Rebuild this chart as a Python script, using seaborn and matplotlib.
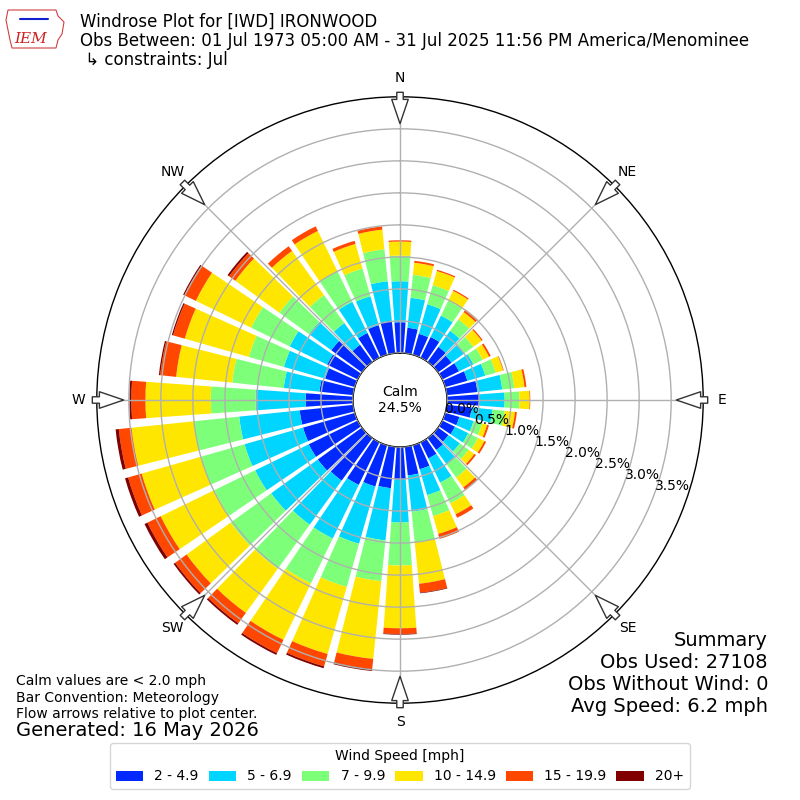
import numpy as np
import pandas as pd
import seaborn as sns
import matplotlib
matplotlib.use('Agg')
import matplotlib.pyplot as plt
from matplotlib.patches import Polygon

# Directions (deg, meteorological) and speed bins
directions = list(range(0, 360, 10))
speed_labels = ['2 - 4.9', '5 - 6.9', '7 - 9.9', '10 - 14.9', '15 - 19.9', '20+']
card_angles = [0, 45, 90, 135, 180, 225, 270, 315]
card_labels = ['N', 'NE', 'E', 'SE', 'S', 'SW', 'W', 'NW']
ring_values = [0.0, 0.5, 1.0, 1.5, 2.0, 2.5, 3.0, 3.5]
calm_pct = 24.5
summary_lines = ['Summary', 'Obs Used: 27108', 'Obs Without Wind: 0', 'Avg Speed: 6.2 mph']

# percent of observations in each direction, one list per speed bin
spd_2_5 = [0.48, 0.40, 0.34, 0.36, 0.29, 0.26, 0.29, 0.36, 0.48, 0.51, 0.39, 0.23,
           0.22, 0.20, 0.23, 0.28, 0.39, 0.45, 0.51, 0.65, 0.67, 0.74, 0.82, 0.85,
           0.85, 0.84, 0.84, 0.74, 0.53, 0.48, 0.53, 0.59, 0.33, 0.43, 0.48, 0.51]
spd_5_7 = [0.64, 0.47, 0.48, 0.37, 0.31, 0.25, 0.25, 0.29, 0.39, 0.39, 0.33, 0.23,
           0.23, 0.22, 0.28, 0.42, 0.42, 0.57, 0.67, 0.82, 0.93, 0.93, 0.85, 0.90,
           0.93, 0.95, 0.95, 0.78, 0.56, 0.67, 0.65, 0.43, 0.42, 0.54, 0.47, 0.62]
spd_7_10 = [0.40, 0.36, 0.31, 0.26, 0.22, 0.17, 0.16, 0.17, 0.19, 0.23, 0.19, 0.14,
            0.17, 0.17, 0.25, 0.36, 0.34, 0.48, 0.67, 0.64, 0.70, 0.78, 0.85, 0.78,
            0.71, 0.71, 0.71, 0.70, 0.81, 0.57, 0.67, 0.57, 0.54, 0.53, 0.45, 0.50]
spd_10_15 = [0.22, 0.19, 0.23, 0.17, 0.14, 0.16, 0.11, 0.12, 0.16, 0.16, 0.16, 0.08,
             0.11, 0.11, 0.19, 0.19, 0.29, 0.65, 0.98, 1.22, 1.09, 0.98, 0.85, 0.85,
             0.93, 0.96, 0.98, 1.02, 0.88, 1.04, 0.96, 0.85, 0.85, 0.70, 0.40, 0.31]
spd_15_20 = [0.02, 0.03, 0.02, 0.02, 0.05, 0.02, 0.03, 0.01, 0.03, 0.01, 0.03, 0.03,
             0.03, 0.03, 0.05, 0.06, 0.08, 0.14, 0.09, 0.16, 0.20, 0.23, 0.20, 0.22,
             0.23, 0.22, 0.20, 0.22, 0.25, 0.19, 0.20, 0.12, 0.09, 0.08, 0.05, 0.05]
spd_20p = [0.0, 0.0, 0.0, 0.0, 0.0, 0.0, 0.0, 0.0, 0.0, 0.0, 0.0, 0.0,
           0.0, 0.0, 0.0, 0.0, 0.0, 0.01, 0.01, 0.03, 0.03, 0.03, 0.03, 0.03,
           0.05, 0.05, 0.05, 0.03, 0.02, 0.02, 0.02, 0.03, 0.0, 0.0, 0.0, 0.0]

df = pd.DataFrame({'dir': directions, speed_labels[0]: spd_2_5, speed_labels[1]: spd_5_7,
                   speed_labels[2]: spd_7_10, speed_labels[3]: spd_10_15,
                   speed_labels[4]: spd_15_20, speed_labels[5]: spd_20p})

sns.set_style('white')
plt.rcParams['font.family'] = ['DejaVu Sans']
plt.rcParams['text.color'] = 'black'
plt.rcParams['xtick.color'] = 'black'
plt.rcParams['ytick.color'] = 'black'

colors = plt.cm.jet(np.linspace(0, 1, 7))[1:]

fig = plt.figure(figsize=(8, 8), dpi=100)
ax = fig.add_axes([0.121, 0.121, 0.758, 0.758], projection='polar')
ax.set_theta_zero_location('N')
ax.set_theta_direction(-1)

theta = np.deg2rad(df['dir'].values)
width = np.deg2rad(10) * 0.82
bottom = np.zeros(len(df))
for i, lab in enumerate(speed_labels):
    ax.bar(theta, df[lab].values, width=width, bottom=bottom, color=colors[i],
           label=lab, linewidth=0, align='center')
    bottom += df[lab].values

ax.set_rorigin(-0.734)
ax.set_ylim(0, 4.0)
ax.set_axisbelow(False)
ax.grid(True, color='#b0b0b0', linewidth=1.0)
ax.set_thetagrids(card_angles, labels=card_labels, fontsize=10)
ax.tick_params(axis='x', pad=3)
ax.set_rgrids(ring_values, labels=['%.1f%%' % v for v in ring_values], angle=110, fontsize=10)
for sp in ax.spines.values():
    sp.set_color('black')
    sp.set_linewidth(1.0)

# calm in the middle
ax.text(0, -0.734, 'Calm\n%.1f%%' % calm_pct, ha='center', va='center', fontsize=10)

# flow arrows at the cardinal points
for ang in card_angles:
    ax.annotate('', xy=(np.deg2rad(ang), 3.58), xytext=(np.deg2rad(ang), 4.07),
                xycoords='data', textcoords='data', annotation_clip=False,
                arrowprops=dict(arrowstyle='simple,head_length=1.25,head_width=0.85,tail_width=0.33',
                                mutation_scale=14, fc='white', ec='#333333', lw=1.0,
                                shrinkA=0, shrinkB=0))

# header
fig.text(0.1, 0.984, 'Windrose Plot for [IWD] IRONWOOD\n'
         'Obs Between: 01 Jul 1973 05:00 AM - 31 Jul 2025 11:56 PM America/Menominee\n'
         ' \u21b3 constraints: Jul', ha='left', va='top', fontsize=12, linespacing=1.08)

# rough IEM logo
iowa = np.array([[8, 10], [56, 10], [58, 16], [64, 22], [62, 34], [58, 40], [56, 48],
                 [12, 48], [10, 40], [8, 30], [6, 20]], dtype=float)
iowa[:, 0] /= 800.0
iowa[:, 1] = 1 - iowa[:, 1] / 800.0
fig.patches.append(Polygon(iowa, closed=True, fill=False, ec='#d04040', lw=0.8,
                           transform=fig.transFigure, figure=fig))
fig.text(0.038, 0.951, 'IEM', color='#cc2222', fontsize=11, family='DejaVu Serif',
         style='italic', ha='center', va='center')
fig.lines.append(plt.Line2D([0.025, 0.06], [0.976, 0.976], color='#1020cc', lw=1.5,
                            transform=fig.transFigure, figure=fig))

# summary, one text per line so the block stays clear of the SE label
for k, line in enumerate(summary_lines):
    fig.text(0.96, 0.2 - k * 0.0275, line, ha='right', va='center', fontsize=14)
fig.text(0.02, 0.157, 'Calm values are < 2.0 mph\nBar Convention: Meteorology\n'
         'Flow arrows relative to plot center.', ha='left', va='top', fontsize=10,
         linespacing=1.22)
fig.text(0.02, 0.0875, 'Generated: 16 May 2026', ha='left', va='center', fontsize=14)

handles, labels = ax.get_legend_handles_labels()
fig.legend(handles, labels, loc='lower center', bbox_to_anchor=(0.5, 0.005), ncol=6,
           title='Wind Speed [mph]', fontsize=10, title_fontsize=10,
           columnspacing=0.7)

fig.savefig('out.png', dpi=100)
